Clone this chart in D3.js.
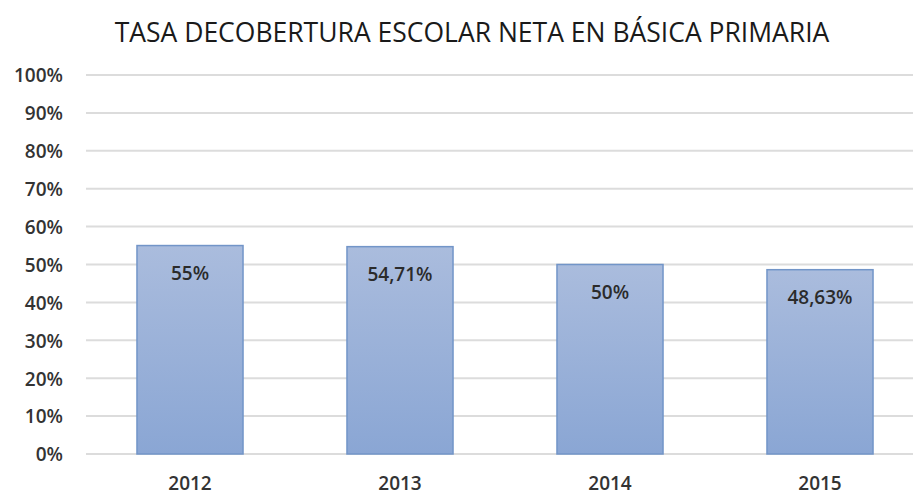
<!DOCTYPE html>
<html>
<head>
<meta charset="utf-8">
<script src="https://cdn.jsdelivr.net/npm/d3@7"></script>
<style>
  body { margin: 0; background: #fff; }
  text { font-family: "Open Sans", "Noto Sans", sans-serif; fill: #262626; }
</style>
</head>
<body>
<div id="chart"></div>
<script>
// data
const years = ["2012", "2013", "2014", "2015"];
const coverage = [0.55, 0.5471, 0.50, 0.4863];
const labels = ["55%", "54,71%", "50%", "48,63%"];
const yTicks = [0, 0.1, 0.2, 0.3, 0.4, 0.5, 0.6, 0.7, 0.8, 0.9, 1.0];

const width = 913, height = 496;

const svg = d3.select("#chart").append("svg")
    .attr("width", width)
    .attr("height", height);

const defs = svg.append("defs");
const grad = defs.append("linearGradient")
    .attr("id", "barGrad")
    .attr("x1", 0).attr("y1", 0).attr("x2", 0).attr("y2", 1);
grad.append("stop").attr("offset", "0%").attr("stop-color", "#aabcdd");
grad.append("stop").attr("offset", "100%").attr("stop-color", "#8aa6d4");

var x = d3.scaleBand()
    .domain(years)
    .range([85, 925])
    .paddingInner(0.495)
    .paddingOuter(0.2475);

var y = d3.scaleLinear()
    .domain([0, 1])
    .range([454, 75]);

// title
svg.append("text")
    .attr("x", 472)
    .attr("y", 42)
    .attr("text-anchor", "middle")
    .attr("font-size", "26.5px")
    .attr("font-weight", 500)
    .style("fill", "#1a1a1a")
    .text("TASA DECOBERTURA ESCOLAR NETA EN BÁSICA PRIMARIA");

// grid lines
svg.append("g")
    .selectAll("line")
    .data(yTicks)
    .enter().append("line")
    .attr("x1", 86)
    .attr("x2", width)
    .attr("y1", d => y(d))
    .attr("y2", d => y(d))
    .attr("stroke", "#dcdcdc")
    .attr("stroke-width", 2);

// y axis
var yAxis = svg.append("g")
    .attr("transform", "translate(63,0)")
    .call(d3.axisLeft(y).tickValues(yTicks).tickSize(0).tickPadding(0)
        .tickFormat(d => Math.round(d * 100) + "%"));
yAxis.select(".domain").remove();
yAxis.selectAll("text")
    .attr("font-size", "19px")
    .attr("font-weight", 600)
    .attr("font-family", "Open Sans, sans-serif")
    .attr("dy", "0.36em")
    .style("fill", "#333");

// x axis
var xAxis = svg.append("g")
    .attr("transform", "translate(0,476)")
    .call(d3.axisBottom(x).tickSize(0).tickPadding(0));
xAxis.select(".domain").remove();
xAxis.selectAll("text")
    .attr("font-size", "19px")
    .attr("font-weight", 600)
    .attr("font-family", "Open Sans, sans-serif")
    .attr("dy", "0.71em")
    .style("fill", "#333");

// bars
svg.append("g")
    .selectAll("rect")
    .data(years)
    .enter().append("rect")
    .attr("x", d => x(d))
    .attr("y", (d, i) => y(coverage[i]))
    .attr("width", x.bandwidth())
    .attr("height", (d, i) => y(0) - y(coverage[i]))
    .attr("fill", "url(#barGrad)")
    .attr("stroke", "#7295c8")
    .attr("stroke-width", 1.5);

// value labels
svg.append("g")
    .selectAll("text")
    .data(years)
    .enter().append("text")
    .attr("x", d => x(d) + x.bandwidth() / 2)
    .attr("y", (d, i) => y(coverage[i]) + 34)
    .attr("text-anchor", "middle")
    .attr("font-size", "19px")
    .attr("font-weight", 600)
    .style("fill", "#2b2b2b")
    .text((d, i) => labels[i]);
</script>
</body>
</html>
